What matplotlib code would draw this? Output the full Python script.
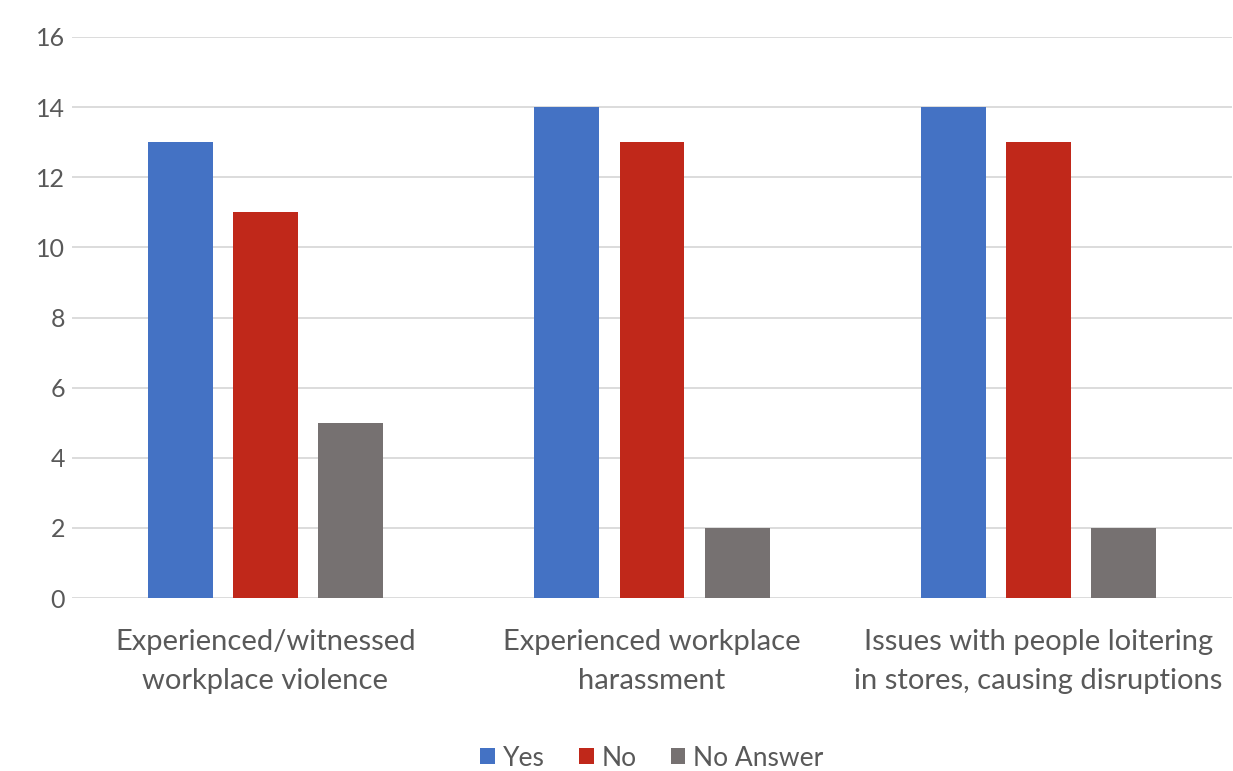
import matplotlib.pyplot as plt
import numpy as np

plt.rcParams['font.family'] = ['Lato', 'DejaVu Sans']

categories = ['Experienced/witnessed\nworkplace violence',
              'Experienced workplace\nharassment',
              'Issues with people loitering\nin stores, causing disruptions']
yes = [13, 14, 14]
no = [11, 13, 13]
no_answer = [5, 2, 2]

fig = plt.figure(figsize=(12.33, 7.71), dpi=100)
ax = fig.add_axes([72 / 1233, 1 - 598 / 771, 1160 / 1233, 561 / 771])

x = np.arange(len(categories))
w = 0.168
step = 0.22
ax.bar(x - step, yes, w, color='#4472C4', label='Yes', zorder=3)
ax.bar(x, no, w, color='#C0281A', label='No', zorder=3)
ax.bar(x + step, no_answer, w, color='#767171', label='No Answer', zorder=3)

ax.set_xlim(-0.5, 2.5)
ax.set_ylim(0, 16)
ax.set_yticks(range(0, 17, 2))
ax.yaxis.grid(True, color='#D9D9D9', linewidth=1.3, zorder=0)
for s in ax.spines.values():
    s.set_visible(False)
ax.tick_params(axis='y', length=0, pad=5, labelsize=18, labelcolor='#595959')
ax.tick_params(axis='x', length=0, pad=22, labelsize=21, labelcolor='#595959')
ax.set_xticks(x)
ax.set_xticklabels(categories, linespacing=1.65)

ax.legend(loc='lower center', bbox_to_anchor=(0.5, -0.35), ncol=3, frameon=False,
          fontsize=19, labelcolor='#595959', handlelength=0.55, handleheight=0.55,
          handletextpad=0.3, columnspacing=1.3)

fig.savefig('out.png', dpi=100)
